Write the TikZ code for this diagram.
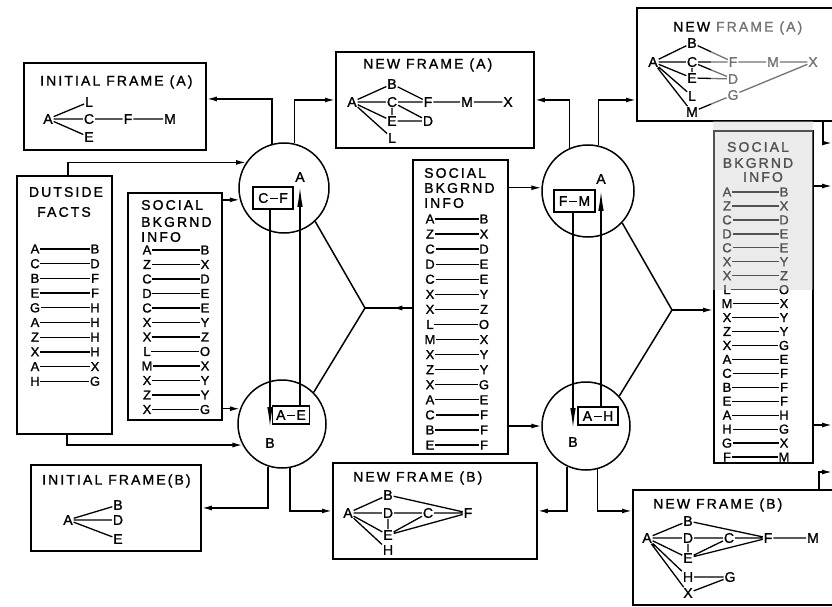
\documentclass[tikz,border=0pt]{standalone}
\usepackage{fontspec}
\setmainfont{Liberation Sans}[FakeBold=1.3]
\newfontfamily\ttlfont{Liberation Sans}[LetterSpace=15,FakeBold=1.3]
\usetikzlibrary{arrows.meta,decorations.markings}
\newcommand{\dsh}{\kern1.5pt\rule[3.6pt]{8pt}{1.4pt}\kern1.5pt}
\tikzset{
 frame/.style={draw, line width=1.9pt, anchor=north west, inner sep=0},
 circ/.style={draw, circle, line width=1.5pt, inner sep=0},
 ttl/.style={font=\ttlfont\fontsize{14}{16}\selectfont, inner sep=0, anchor=west},
 gl/.style={font=\fontsize{14}{16}\selectfont, inner sep=0.8pt},
 pl/.style={font=\fontsize{13}{15}\selectfont, inner sep=0.6pt},
 ge/.style={line width=1.3pt},
 pe/.style={line width=1.3pt},
 conn/.style={line width=1.5pt},
 arr/.style={conn, -{Latex[length=10pt,width=5pt]}},
 inbox/.style={draw, line width=1.5pt, font=\fontsize{14}{16}\selectfont, inner sep=0},
 longarr/.style={line width=1.3pt, -{Latex[length=20pt,width=5.5pt]}},
 midarr/.style={conn, postaction=decorate, decoration={markings, mark=at position 0.42 with {\arrow{Latex[length=10pt,width=5pt]}}}},
}
\begin{document}
\begin{tikzpicture}[x=1pt,y=-1pt]
\useasboundingbox (0,0) rectangle (832,607);
\clip (0,0) rectangle (832,607);
\fill[gray!16] (713,121) rectangle (813,290);

% ---------- boxes ----------
\node[frame, minimum width=182pt, minimum height=87pt] (ifa) at (23,62) {};
\node[frame, minimum width=95pt, minimum height=258pt] (ofb) at (16,175) {};
\node[frame, minimum width=94pt, minimum height=227pt] (sb1) at (127,192) {};
\node[frame, minimum width=198pt, minimum height=96pt] (nfa) at (335,51) {};
\node[frame, minimum width=95pt, minimum height=294pt] (sb2) at (412,159) {};
\node[frame, minimum width=170pt, minimum height=86pt] (ifb) at (30,464) {};
\node[frame, minimum width=204pt, minimum height=96pt] (nfb) at (332,462) {};
\node[frame, minimum width=209pt, minimum height=113pt] (nfa2) at (636,7) {};
\node[frame, minimum width=99pt, minimum height=332pt] (sb3) at (713,130) {};
\node[frame, minimum width=213pt, minimum height=115pt] (nfb2) at (632,489) {};

% ---------- circles ----------
\node[circ, minimum size=90pt] (ca) at (284,188) {};
\node[circ, minimum size=88pt] (cb) at (282,424) {};
\node[circ, minimum size=92pt] (cc) at (588,191) {};
\node[circ, minimum size=88pt] (cd) at (586,426) {};

% ---------- inside circles ----------
\node[inbox, minimum width=40pt, minimum height=22pt] (cf) at (273,198) {C\dsh F};
\node[gl] (la1) at (300,177) {A};
\node[inbox, minimum width=37pt, minimum height=18pt] (ae) at (291,415) {A\dsh E};
\node[gl] (lb1) at (270,443) {B};
\draw[longarr, shorten >=4pt] (ae.north -| la1) -- (la1.south);
\draw[longarr, shorten >=10pt] (cf.south -| lb1) -- (lb1.north);

\node[inbox, minimum width=41pt, minimum height=22pt] (fm) at (574.5,201) {F\dsh M};
\node[gl] (la2) at (601,179) {A};
\node[inbox, minimum width=40pt, minimum height=18pt] (ah) at (598,416) {A\dsh H};
\node[gl] (lb2) at (573,442) {B};
\draw[longarr, shorten >=6pt] (ah.north -| la2) -- (la2.south);
\draw[longarr, shorten >=8pt] (fm.south -| lb2) -- (lb2.north);

% ---------- connectors ----------
\draw[arr] (ca.105.5) |- ([yshift=7.5pt]ifa.east);
\draw[arr] (ca.77.2) |- (nfa.west);
\draw[arr] ([xshift=3.5pt]ofb.north) |- (ca.146.3);
\draw[arr] (sb1.east |- ca.195.5) -- (ca.195.5);
\draw[arr] (sb1.east |- cb.160.1) -- (cb.160.1);
\draw[arr] ([xshift=2.5pt]ofb.south) |- (cb.208.5);
\draw[arr] (cb.252.8) |- (ifb.east);
\draw[arr] (cb.280.5) |- (nfb.west);
\coordinate (j1) at (365,308);
\draw[conn] (ca.313.3) -- (j1) -- (cb.45.8);
\draw[midarr] (sb2.west |- j1) -- (j1);
\draw[arr] (sb2.east |- cc.176.3) -- (cc.176.3);
\draw[arr] (sb2.east |- cd.west) -- (cd.west);
\draw[arr] (cc.113) |- (nfa.east);
\draw[arr] (cc.77.4) |- (nfa2.west |- nfa.east);
\draw[arr] (cd.245.9) |- (nfb.east);
\draw[arr] (cd.285.8) |- (nfb2.west |- nfb.east);
\coordinate (j2) at (672,310);
\draw[conn] (cc.317.4) -- (j2) -- (cd.42.5);
\draw[arr] (j2) -- (sb3.west |- j2);
\coordinate (o1) at (832,143);
\coordinate (k1) at (823,143);
\draw[arr] (k1 |- nfa2.south) -- (k1) -- (o1);
\coordinate (o2) at (832,186);
\draw[arr] (sb3.east |- o2) -- (o2);
\coordinate (o3) at (832,425);
\draw[arr] (sb3.east |- o3) -- (o3);
\coordinate (o4) at (832,472);
\coordinate (k4) at (819,472);
\draw[arr] (k4 |- nfb2.north) -- (k4) -- (o4);

% ---------- Initial frame (A) ----------
\node[ttl] (t1) at (40,82) {INITIAL FRAME (A)};
\node[gl] (a1A) at (48,119) {A};
\node[gl] (a1L) at (89,102) {L};
\node[gl] (a1C) at (89,119) {C};
\node[gl] (a1E) at (89,137) {E};
\node[gl] (a1F) at (128,119) {F};
\node[gl] (a1M) at (170,119) {M};
\draw[ge] (a1A) -- (a1L) (a1A) -- (a1C) (a1A) -- (a1E) (a1C) -- (a1F) (a1F) -- (a1M);

% ---------- New frame (A) centre ----------
\node[ttl] (t2) at (363,65) {NEW FRAME (A)};
\node[gl] (a2A) at (352,102) {A};
\node[gl] (a2B) at (392,84) {B};
\node[gl] (a2C) at (392,102) {C};
\node[gl] (a2E) at (392,121) {E};
\node[gl] (a2L) at (392,138) {L};
\node[gl] (a2F) at (428,102) {F};
\node[gl] (a2D) at (428,121) {D};
\node[gl] (a2M) at (467,102) {M};
\node[gl] (a2X) at (508,102) {X};
\draw[ge] (a2A) -- (a2B) (a2A) -- (a2C) (a2A) -- (a2E) (a2A) -- (a2L)
 (a2B) -- (a2F) (a2C) -- (a2F) (a2C) -- (a2E) (a2C) -- (a2D) (a2E) -- (a2D)
 (a2F) -- (a2M) (a2M) -- (a2X);

% ---------- New frame (A) right ----------
\node[ttl] (t3) at (673,28) {NEW FRAME (A)};
\node[gl] (a3A) at (653,62) {A};
\node[gl] (a3B) at (692,43) {B};
\node[gl] (a3C) at (692,62) {C};
\node[gl] (a3E) at (692,78) {E};
\node[gl] (a3L) at (692,96) {L};
\node[gl] (a3M) at (692,112) {M};
\node[gl] (a3F) at (733,62) {F};
\node[gl] (a3D) at (733,79) {D};
\node[gl] (a3G) at (733,95) {G};
\node[gl] (a3N) at (773,62) {M};
\node[gl] (a3X) at (813,62) {X};
\draw[ge] (a3A) -- (a3B) (a3A) -- (a3C) (a3A) -- (a3E) (a3A) -- (a3L) (a3A) -- (a3M)
 (a3B) -- (a3F) (a3C) -- (a3F) (a3C) -- (a3D) (a3C) -- (a3E) (a3E) -- (a3D)
 (a3F) -- (a3N) (a3N) -- (a3X) (a3M) -- (a3G) (a3G) -- (a3X);

% ---------- Initial frame (B) ----------
\node[ttl] (t4) at (42,481) {INITIAL FRAME(B)};
\node[gl] (b1A) at (68,520) {A};
\node[gl] (b1B) at (118,505) {B};
\node[gl] (b1D) at (118,520) {D};
\node[gl] (b1E) at (118,539) {E};
\draw[ge] (b1A) -- (b1B) (b1A) -- (b1D) (b1A) -- (b1E);

% ---------- New frame (B) centre ----------
\node[ttl] (t5) at (353,478) {NEW FRAME (B)};
\node[gl] (b2A) at (348,513) {A};
\node[gl] (b2B) at (388,495) {B};
\node[gl] (b2D) at (388,513) {D};
\node[gl] (b2C) at (428,513) {C};
\node[gl] (b2F) at (468,513) {F};
\node[gl] (b2E) at (388,535) {E};
\node[gl] (b2H) at (388,550) {H};
\draw[ge] (b2A) -- (b2B) (b2A) -- (b2D) (b2A) -- (b2E) (b2A) -- (b2H)
 (b2B) -- (b2F) (b2D) -- (b2C) (b2C) -- (b2F) (b2D) -- (b2E) (b2C) -- (b2E) (b2E) -- (b2F);

% ---------- New frame (B) right ----------
\node[ttl] (t6) at (653,505) {NEW FRAME (B)};
\node[gl] (b3A) at (647,538) {A};
\node[gl] (b3B) at (688,521) {B};
\node[gl] (b3D) at (688,538) {D};
\node[gl] (b3C) at (729,538) {C};
\node[gl] (b3F) at (768,538) {F};
\node[gl] (b3M) at (813,538) {M};
\node[gl] (b3E) at (688,558) {E};
\node[gl] (b3H) at (688,577) {H};
\node[gl] (b3G) at (730,577) {G};
\node[gl] (b3X) at (688,593) {X};
\draw[ge] (b3A) -- (b3B) (b3A) -- (b3D) (b3A) -- (b3E) (b3A) -- (b3H) (b3A) -- (b3X)
 (b3B) -- (b3F) (b3D) -- (b3C) (b3C) -- (b3F) (b3D) -- (b3E) (b3C) -- (b3E) (b3E) -- (b3F)
 (b3F) -- (b3M) (b3H) -- (b3G) (b3X) -- (b3G);

% ---------- Outside facts ----------
\node[ttl, anchor=center] (t7) at (66,192) {DUTSIDE};
\node[ttl, anchor=center] (t8) at (64,212) {FACTS};
\foreach \pa/\pb [count=\i from 0] in {A/B,C/D,B/F,E/F,G/H,A/H,Z/H,X/H,A/X,H/G} {
  \node[pl] (ofL\i) at (35,{249+14.7*\i}) {\pa};
  \node[pl] (ofR\i) at (95,{249+14.7*\i}) {\pb};
  \draw[pe] (ofL\i.east) -- (ofR\i.west);
}

% ---------- Social background info (left) ----------
\node[ttl] (t9) at (141,205) {SOCIAL};
\node[ttl] (t10) at (141,222) {BKGRND};
\node[ttl] (t11) at (141,237) {INFO};
\foreach \pa/\pb [count=\i from 0] in {A/B,Z/X,C/D,D/E,C/E,X/Y,X/Z,L/O,M/X,X/Y,Z/Y,X/G} {
  \node[pl] (saL\i) at (147,{250+14.5*\i}) {\pa};
  \node[pl] (saR\i) at (205,{250+14.5*\i}) {\pb};
  \draw[pe] (saL\i.east) -- (saR\i.west);
}

% ---------- Social background info (centre) ----------
\node[ttl] (t12) at (424,173) {SOCIAL};
\node[ttl] (t13) at (424,188) {BKGRND};
\node[ttl] (t14) at (424,203) {INFO};
\foreach \pa/\pb [count=\i from 0] in {A/B,Z/X,C/D,D/E,C/E,X/Y,X/Z,L/O,M/X,X/Y,Z/Y,X/G,A/E,C/F,B/F,E/F} {
  \node[pl] (sbL\i) at (430,{219+15.07*\i}) {\pa};
  \node[pl] (sbR\i) at (484,{219+15.07*\i}) {\pb};
  \draw[pe] (sbL\i.east) -- (sbR\i.west);
}

% ---------- Social background info (right) ----------
\node[ttl, anchor=center] (t15) at (758,147) {SOCIAL};
\node[ttl, anchor=center] (t16) at (758,163) {BKGRND};
\node[ttl, anchor=center] (t17) at (763,177) {INFO};
\foreach \pa/\pb [count=\i from 0] in {A/B,Z/X,C/D,D/E,C/E,X/Y,X/Z,L/O,M/X,X/Y,Z/Y,X/G,A/E,C/F,B/F,E/F,A/H,H/G,G/X,F/M} {
  \node[pl] (scL\i) at (727,{192+13.95*\i}) {\pa};
  \node[pl] (scR\i) at (784,{192+13.95*\i}) {\pb};
  \draw[pe] (scL\i.east) -- (scR\i.west);
}

% ---------- scan tone ----------
\fill[white, opacity=0.45] (711,10) rectangle (829,117);
\fill[gray!16, opacity=0.35] (713,121) rectangle (813,290);
\end{tikzpicture}
\end{document}
